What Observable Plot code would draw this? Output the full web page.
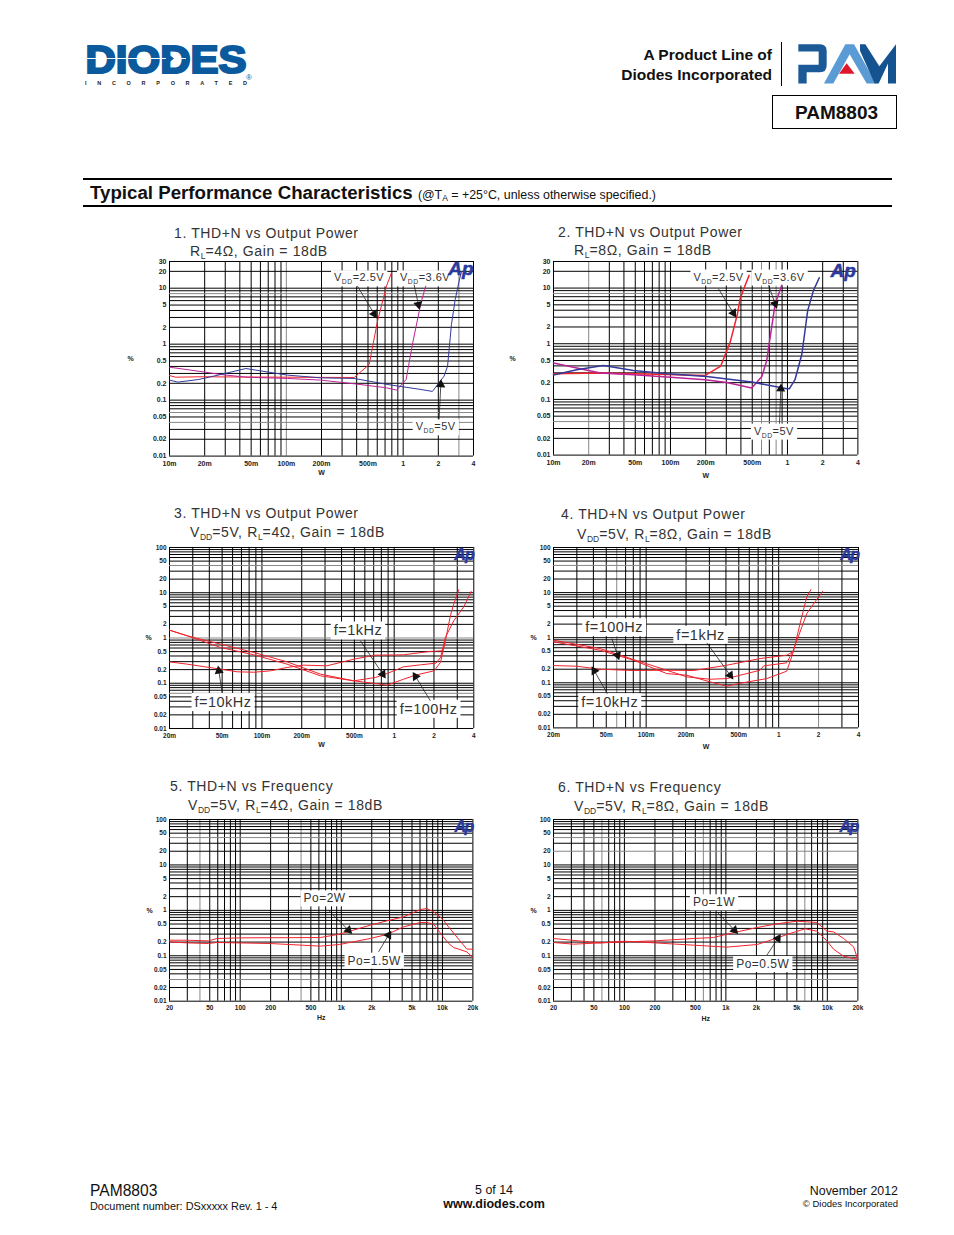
<!DOCTYPE html>
<html><head><meta charset="utf-8">
<script src="https://cdn.jsdelivr.net/npm/d3@7"></script>
<script src="https://cdn.jsdelivr.net/npm/@observablehq/plot@0.6"></script>
<style>
html,body{margin:0;padding:0;background:#fff}
body{position:relative;width:954px;height:1235px;overflow:hidden;font-family:"Liberation Sans",Arial,sans-serif;color:#111}
.t{position:absolute;white-space:nowrap;transform:translateY(-50%);line-height:1}
.r{transform:translate(-100%,-50%)}
.c{transform:translate(-50%,-50%)}
.ct{font-size:14px;letter-spacing:.62px;color:#333}
.ct sub{font-size:8.5px;vertical-align:-3px;line-height:0;letter-spacing:0}
.chart{position:absolute}
.chart svg{overflow:visible;display:block;background:transparent}
.hr{position:absolute;background:#000}
</style></head><body>
<svg style="position:absolute;left:80px;top:38px" width="185" height="52" viewBox="80 38 185 52">
 <text x="85.5" y="72.5" font-family="Liberation Sans" font-weight="700" font-size="39" fill="#0b5a9e" textLength="161" lengthAdjust="spacingAndGlyphs" stroke="#0b5a9e" stroke-width="2.2">DIODES</text>
 <path d="M85 58.5H186" stroke="#fff" stroke-width="1.2"/>
 <path d="M166 52l8 6.5l-8 6.5z" fill="#0b5a9e"/>
 <text x="85" y="85" font-family="Liberation Sans" font-weight="700" font-size="5.5" fill="#222" textLength="162">INCORPORATED</text>
 <text x="246" y="80" font-family="Liberation Sans" font-size="8" fill="#0b5a9e">®</text>
</svg>
<svg style="position:absolute;left:797px;top:43px" width="101" height="42" viewBox="563 39 303 125">
 <path d="M567 42H632Q652 42 652 62V105Q652 126 632 126H592V160H567V104H628V64H567Z" fill="#1b5a96"/>
 <path d="M644 160L708 42H734L800 160H772L721 72L672 160Z" fill="#5b9bd5"/>
 <path d="M689 131L712 99L736 131Z" fill="#e0162b"/>
 <path d="M752 42H768L810 108L860 42V160H836V100L808 160L796 160L752 62Z" fill="#14538f"/>
</svg>
<div class="t r" style="left:772px;top:55px;font-weight:700;font-size:15.5px">A Product Line of</div>
<div class="t r" style="left:772px;top:75px;font-weight:700;font-size:15.5px">Diodes Incorporated</div>
<div class="hr" style="left:781px;top:42px;width:1px;height:44px"></div>
<div style="position:absolute;left:772px;top:95px;width:123px;height:32px;border:1.5px solid #000;text-align:center;font-weight:700;font-size:19px;line-height:33px;text-indent:4px">PAM8803</div>
<div class="hr" style="left:83px;top:178px;width:809px;height:2px"></div>
<div class="t" style="left:90px;top:193px;font-weight:700;font-size:18.7px">Typical Performance Characteristics <span style="font-weight:400;font-size:12.4px">(@T<span style="font-size:8.5px;vertical-align:-2px">A</span> = +25°C, unless otherwise specified.)</span></div>
<div class="hr" style="left:83px;top:205px;width:809px;height:2px"></div>

<div class="t ct" style="left:174px;top:233px">1. THD+N vs Output Power</div>
<div class="t ct" style="left:190px;top:251px">R<sub>L</sub>=4Ω, Gain = 18dB</div>
<div class="t ct" style="left:558px;top:232px">2. THD+N vs Output Power</div>
<div class="t ct" style="left:574px;top:250px">R<sub>L</sub>=8Ω, Gain = 18dB</div>
<div class="t ct" style="left:174px;top:513px">3. THD+N vs Output Power</div>
<div class="t ct" style="left:190px;top:532px">V<sub>DD</sub>=5V, R<sub>L</sub>=4Ω, Gain = 18dB</div>
<div class="t ct" style="left:561px;top:514px">4. THD+N vs Output Power</div>
<div class="t ct" style="left:577px;top:534px">V<sub>DD</sub>=5V, R<sub>L</sub>=8Ω, Gain = 18dB</div>
<div class="t ct" style="left:170px;top:786px">5. THD+N vs Frequency</div>
<div class="t ct" style="left:188px;top:805px">V<sub>DD</sub>=5V, R<sub>L</sub>=4Ω, Gain = 18dB</div>
<div class="t ct" style="left:558px;top:787px">6. THD+N vs Frequency</div>
<div class="t ct" style="left:574px;top:806px">V<sub>DD</sub>=5V, R<sub>L</sub>=8Ω, Gain = 18dB</div>

<div class="t" style="left:90px;top:1191px;font-size:15.6px">PAM8803</div>
<div class="t" style="left:90px;top:1206px;font-size:10.9px">Document number: DSxxxxx Rev. 1 - 4</div>
<div class="t c" style="left:494px;top:1190px;font-size:12.4px">5 of 14</div>
<div class="t c" style="left:494px;top:1204px;font-size:12.5px;font-weight:700">www.diodes.com</div>
<div class="t r" style="left:898px;top:1191px;font-size:12.4px">November 2012</div>
<div class="t r" style="left:898px;top:1204px;font-size:9.5px">© Diodes Incorporated</div>

<script>
// ---- tick labels ----
const wTicks1 = [.01,.02,.05,.1,.2,.5,1,2,4];
const wLabels1 = ["10m","20m","50m","100m","200m","500m","1","2","4"];
const wTicks3 = [.02,.05,.1,.2,.5,1,2,4];
const wLabels3 = ["20m","50m","100m","200m","500m","1","2","4"];
const hzTicks = [20,50,100,200,500,1000,2000,5000,10000,20000];
const hzLabels = ["20","50","100","200","500","1k","2k","5k","10k","20k"];
const pctTicks30 = [30,20,10,5,2,1,.5,.2,.1,.05,.02,.01];
const pctTicks100 = [100,50,20,10,5,2,1,.5,.2,.1,.05,.02,.01];

// ---- chart 1: [W, %] ----
const c1v25 = [[.01,.275],[.0113,.257],[.0194,.262],[.0275,.26],[.102,.257],[.197,.255],[.381,.254],[.512,.433],[.603,2.57],[.72,10.9],[.794,18.8]];
const c1v36 = [[.01,.388],[.0194,.32],[.0275,.287],[.045,.257],[.102,.244],[.197,.228],[.381,.196],[.72,.166],[.88,.151],[1.06,.234],[1.2,.987],[1.42,5.47],[1.56,10.9]];
const c1v50 = [[.01,.228],[.0118,.21],[.0176,.233],[.0275,.287],[.045,.367],[.102,.28],[.197,.25],[.381,.244],[.74,.19],[1.42,.155],[1.78,.143],[2.24,.268],[2.4,.405],[2.59,2.24],[2.79,6.28],[3.01,13.3],[3.16,20]];
// ---- chart 2 ----
const c2v25 = [[.01,.289],[.0251,.297],[.0931,.28],[.198,.27],[.269,.397],[.324,1.07],[.374,3.46],[.394,6.43],[.435,11.2],[.47,16.9]];
const c2v36 = [[.01,.45],[.0251,.297],[.0483,.277],[.0931,.252],[.198,.226],[.303,.202],[.495,.16],[.604,.259],[.665,.5],[.785,5.24],[.895,11.2]];
const c2v50 = [[.01,.274],[.0158,.341],[.0267,.408],[.0483,.332],[.0931,.289],[.204,.259],[.495,.205],[.987,.156],[1.04,.156],[1.16,.226],[1.33,.661],[1.49,3.97],[1.67,9.08],[1.87,15.3]];
// ---- chart 3 ----
const c3f100 = [[.02,1.49],[.0272,1.12],[.0486,.617],[.0868,.425],[.155,.264],[.277,.146],[.495,.113],[.72,.0987],[.884,.0907],[1.18,.123],[1.45,.151],[2,.188],[2.24,.288],[2.44,.865],[2.66,3.09],[2.82,5.6],[3.08,11.6]];
const c3f1k = [[.02,1.49],[.0272,1.12],[.0486,.731],[.0868,.479],[.155,.297],[.277,.159],[.495,.113],[.72,.134],[.884,.164],[1.18,.231],[1.58,.255],[2.07,.278],[2.24,.371],[2.44,1.03],[2.82,2.39],[3.36,4.89],[3.82,10.7]];
const c3f10k = [[.02,.297],[.0272,.264],[.0486,.205],[.065,.179],[.0868,.175],[.116,.188],[.155,.223],[.207,.251],[.31,.243],[.495,.34],[.72,.418],[1.18,.425],[1.85,.503],[2.3,.52],[2.44,.8]];
// ---- chart 4 ----
const c4f100 = [[.02,.809],[.0449,.528],[.06,.409],[.0802,.317],[.143,.16],[.203,.147],[.303,.105],[.406,.084],[.497,.0962],[.813,.124],[1.15,.181],[1.29,.485],[1.45,2.06],[1.63,8.05],[1.75,11.7]];
const c4f1k = [[.02,.88],[.0449,.575],[.0802,.328],[.143,.19],[.203,.135],[.303,.12],[.406,.124],[.511,.147],[.724,.19],[.77,.237],[1.15,.277],[1.29,.528],[1.63,3.44],[1.88,6.24],[2.15,10.7]];
const c4f10k = [[.02,.241],[.03,.233],[.0449,.2],[.0802,.187],[.143,.19],[.228,.187],[.406,.245],[.724,.345],[1.15,.409],[1.27,.485]];
// ---- chart 5: [Hz, %] ----
const c5p20 = [[20,.22],[29.7,.22],[48.5,.213],[58.9,.24],[100,.248],[619,.252],[958,.299],[1933,.471],[2825,.587],[4130,.719],[6030,1.04],[7000,1.1],[8180,.927],[9890,.661],[11500,.433],[17400,.14],[20000,.14]];
const c5p15 = [[20,.202],[29.7,.192],[48.5,.186],[58.9,.196],[198,.186],[619,.163],[958,.177],[1933,.24],[2825,.294],[4130,.433],[6030,.54],[7000,.54],[8180,.496],[9890,.284],[11500,.186],[12900,.152],[17400,.122],[20000,.0915]];
// ---- chart 6 ----
const c6p10 = [[20,.24],[57.7,.192],[100,.202],[200,.213],[480,.24],[756,.252],[1023,.299],[2030,.419],[3180,.505],[5020,.577],[7880,.54],[9900,.348],[11500,.336],[14460,.24],[18150,.157],[20000,.0826]];
const c6p05 = [[20,.196],[31.5,.18],[57.7,.192],[100,.209],[200,.192],[480,.171],[1023,.155],[2030,.177],[3180,.244],[3990,.294],[6040,.392],[7880,.348],[9900,.213],[11500,.14],[14460,.098],[20000,.0826]];

// ---- annotations ----
const notes1 = [{x:.256,y:15.3,t:"VDD=2.5V"},{x:.94,y:15.3,t:"VDD=3.6V"},{x:1.28,y:.0334,t:"VDD=5V"}];
const notes2 = [{x:.157,y:15.8,t:"VDD=2.5V"},{x:.522,y:15.8,t:"VDD=3.6V"},{x:.517,y:.027,t:"VDD=5V"}];
const notes3 = [{x:.349,y:1.44,t:"f=1kHz"},{x:.0309,y:.0376,t:"f=10kHz"},{x:1.1,y:.0267,t:"f=100Hz"}];
const notes4 = [{x:.0347,y:1.68,t:"f=100Hz"},{x:.169,y:1.14,t:"f=1kHz"},{x:.0324,y:.0365,t:"f=10kHz"}];
const notes5 = [{x:423,y:1.82,t:"Po=2W"},{x:1153,y:.0773,t:"Po=1.5W"}];
const notes6 = [{x:473,y:1.49,t:"Po=1W"},{x:1262,y:.0653,t:"Po=0.5W"}];
const arrows1 = [{x1:.406,y1:10.9,x2:.565,y2:3.48,a:149},{x1:1.24,y1:11.6,x2:1.35,y2:5.1,a:168},{x1:2.03,y1:.0452,x2:2.1,y2:.19,a:3}];
const arrows2 = [{x1:.257,y1:9.73,x2:.345,y2:3.56,a:148},{x1:.689,y1:11.2,x2:.785,y2:5.24,a:160},{x1:.855,y1:.0366,x2:.877,y2:.156,a:2}];
const arrows3 = [{x1:.556,y1:.865,x2:.82,y2:.159,a:146},{x1:1.88,y1:.0408,x2:1.45,y2:.141,a:-32},{x1:.05,y1:.0625,x2:.0472,y2:.188,a:-9}];
const arrows4 = [{x1:.0551,y1:.96,x2:.0608,y2:.409,a:161},{x1:.287,y1:.767,x2:.431,y2:.147,a:144},{x1:.051,y1:.0578,x2:.0406,y2:.184,a:-30}];
const arrows5 = [{x1:748,y1:1,x2:1178,y2:.366,a:135},{x1:2335,y1:.122,x2:2930,y2:.284,a:31}];
const arrows6 = [{x1:815,y1:.927,x2:1216,y2:.366,a:136},{x1:2535,y1:.103,x2:3258,y2:.24,a:33}];

const RED="#f0222c", MAG="#bb2396", BLUE="#33399b";
const mults=[1,2,3,4,5,6,7,8,9];
function logGrid(lo,hi){const o=[];for(let e=-3;e<=5;e++)for(const m of mults){const v=+(m*10**e).toPrecision(3);if(v>=lo*.999&&v<=hi*1.001)o.push(v)}return o}

const charts=[
 {L:168.7,R:472.7,T:260.7,B:455.3,xd:[.01,4],yd:[.01,30],xt:wTicks1,xl:wLabels1,yt:pctTicks30,xg:[.1,3],yg:[8,.06,.04],xn:"W",
  s:[[c1v25,RED],[c1v36,MAG],[c1v50,BLUE]],sw:1,notes:notes1,arrows:arrows1,nf:11,ap:19,ls:0,apdx:0,apdy:0,pdx:-39,wdy:19,tf:7},
 {L:553.3,R:857.7,T:260.7,B:454.3,xd:[.01,4],yd:[.01,30],xt:wTicks1,xl:wLabels1,yt:pctTicks30,xg:[.02,.6,.8],yg:[8,.04],xn:"W",
  s:[[c2v25,RED],[c2v36,MAG],[c2v50,BLUE]],sw:1.5,notes:notes2,arrows:arrows2,nf:11,ap:19,ls:0,apdx:-2,apdy:2,pdx:-41,wdy:22.7,tf:7},
 {L:169,R:473.3,T:546.7,B:727.7,xd:[.02,4],yd:[.01,100],xt:wTicks3,xl:wLabels3,yt:pctTicks100,xg:[],yg:[40,1,.06],xn:"W",
  s:[[c3f100,RED],[c3f1k,RED],[c3f10k,RED]],sw:1,notes:notes3,arrows:arrows3,nf:14.5,ap:16,ls:-.6,apdx:0,apdy:1,pdx:-21,wdy:19,tf:6.5},
 {L:553.3,R:858.3,T:547.3,B:727.7,xd:[.02,4],yd:[.01,100],xt:wTicks3,xl:wLabels3,yt:pctTicks100,xg:[.06,2],yg:[40],xn:"W",
  s:[[c4f100,RED],[c4f1k,RED],[c4f10k,RED]],sw:1,notes:notes4,arrows:arrows4,nf:14.5,ap:16,ls:-1,apdx:0,apdy:1,pdx:-20,wdy:21,tf:6.5},
 {L:169.3,R:472.7,T:819.3,B:1001,xd:[20,20000],yd:[.01,100],xt:hzTicks,xl:hzLabels,yt:pctTicks100,xg:[40,400],yg:[40,.03],xn:"Hz",
  s:[[c5p20,RED],[c5p15,RED]],sw:1,notes:notes5,arrows:arrows5,nf:12,ap:16,ls:-1,apdx:0,apdy:1,pdx:-20,wdy:19,tf:6.5},
 {L:553.3,R:857.7,T:819.3,B:1001,xd:[20,20000],yd:[.01,100],xt:hzTicks,xl:hzLabels,yt:pctTicks100,xg:[60,600,6000],yg:[40,20,.03],xn:"Hz",
  s:[[c6p10,RED],[c6p05,RED]],sw:1,notes:notes6,arrows:arrows6,nf:12,ap:16,ls:-1,apdx:0,apdy:1,pdx:-20,wdy:20,tf:6.5}
];
const mL=42,mR=8,mT=6,mB=26;
charts.forEach(c=>{
 const xg=logGrid(c.xd[0],c.xd[1]), yg=logGrid(c.yd[0],c.yd[1]);
 const isGX=v=>c.xg.includes(v), isGY=v=>c.yg.includes(v);
 const plot=Plot.plot({
  width:c.R-c.L+mL+mR,height:c.B-c.T+mT+mB,marginLeft:mL,marginRight:mR,marginTop:mT,marginBottom:mB,
  style:{fontFamily:"Liberation Sans, Arial, sans-serif",background:"transparent",color:"#222"},
  x:{type:"log",domain:c.xd,axis:null},y:{type:"log",domain:c.yd,axis:null},
  marks:[
   Plot.ruleX(xg,{stroke:v=>isGX(v)?"#888":"#000",strokeWidth:1}),
   Plot.ruleY(yg,{stroke:v=>isGY(v)?"#888":"#000",strokeWidth:1}),
   Plot.text(c.notes,{x:"x",y:"y",text:"t",textAnchor:"start",fontSize:c.nf,fill:"#333"}),
   ...c.s.map(([d,col])=>Plot.line(d,{x:p=>p[0],y:p=>p[1],stroke:col,strokeWidth:c.sw})),
   Plot.link(c.arrows,{x1:"x1",y1:"y1",x2:"x2",y2:"y2",stroke:"#222",strokeWidth:.8}),
   Plot.dot(c.arrows,{x:"x2",y:"y2",rotate:"a",symbol:"triangle",r:3.4,fill:"#111",stroke:null}),
   Plot.text(c.xt,{x:d=>d,text:(d,i)=>c.xl[i],frameAnchor:"bottom",lineAnchor:"top",dy:4.5,fontSize:c.tf,fontWeight:700,fill:"#222",ariaLabel:"ticklabel"}),
   Plot.text(c.yt,{y:d=>d,text:d=>String(d),frameAnchor:"left",textAnchor:"end",dx:-3,fontSize:c.tf,fontWeight:700,fill:"#222",ariaLabel:"ticklabel"}),
   Plot.text(["%"],{frameAnchor:"left",textAnchor:"middle",dx:c.pdx,fontSize:7,fontWeight:700,fill:"#222"}),
   Plot.text([c.xn],{frameAnchor:"bottom",dy:c.wdy,fontSize:7,fontWeight:700,fill:"#222"}),
   Plot.text(["Ap"],{frameAnchor:"top-right",dx:c.apdx,dy:c.apdy,textAnchor:"end",fontSize:c.ap,fontWeight:700,fontStyle:"italic",fill:"#2b3a9c",stroke:"#2b3a9c",strokeWidth:.5})
  ]
 });
 const box=document.createElement("div");
 box.className="chart";
 box.style.left=(c.L-mL)+"px";box.style.top=(c.T-mT)+"px";
 box.appendChild(plot);document.body.appendChild(box);
 const svg=d3.select(plot);
 svg.selectAll("text").each(function(){
  const el=this,txt=el.textContent;
  if(txt==="Ap"){el.style.letterSpacing=c.ls*1.5+"px";return}
  if(!txt.includes("="))return;
  el.style.letterSpacing=".5px";
  if(txt.includes("DD")){
   el.textContent="";
   const t=d3.select(el);
   t.append("tspan").text("V");
   t.append("tspan").text("DD").attr("font-size",c.nf*.62).attr("dy",3);
   t.append("tspan").text(txt.slice(3)).attr("dy",-3);
  }
  const b=el.getBBox();
  d3.select(el.parentNode).insert("rect","text")
    .attr("transform",el.getAttribute("transform"))
    .attr("x",b.x-3).attr("y",b.y-1).attr("width",b.width+6).attr("height",b.height+2).attr("fill","#fff");
 });
 if(c.ls<0)svg.selectAll("g[aria-label='ticklabel'] text").style("letter-spacing",c.ls+"px");
});
</script>
</body></html>
